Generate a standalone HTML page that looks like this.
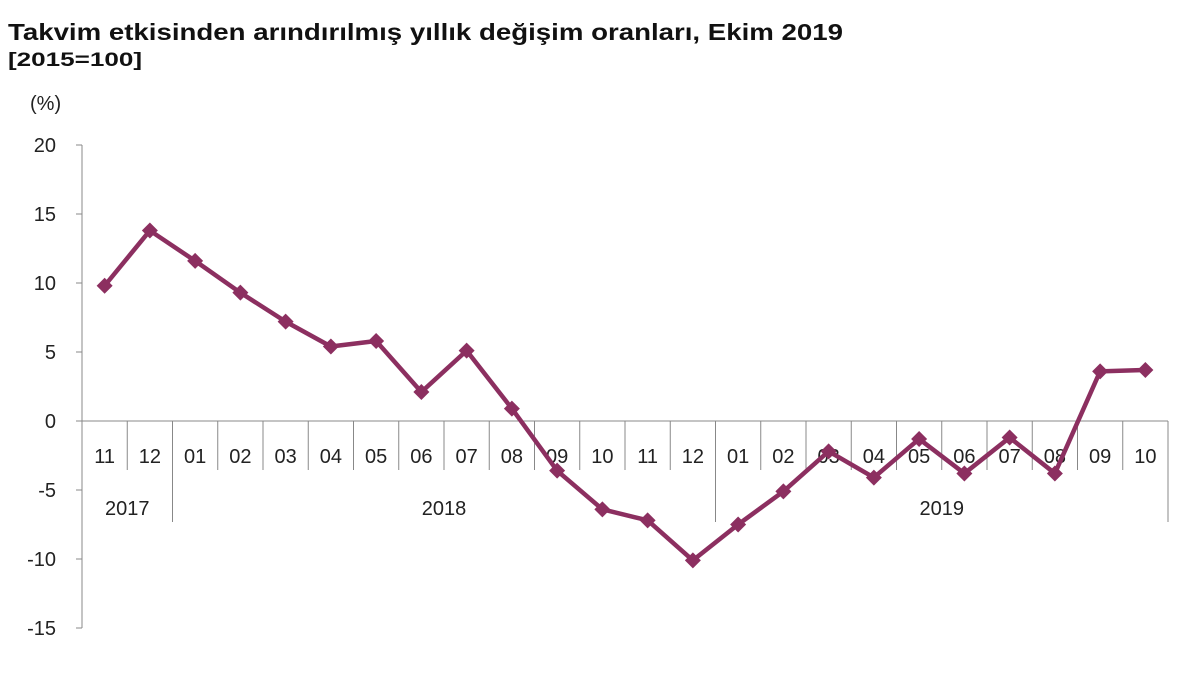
<!DOCTYPE html>
<html><head><meta charset="utf-8"><style>
body{margin:0;background:#fff;}
svg{display:block;font-family:"Liberation Sans",Arial,sans-serif;}
</style></head><body>
<svg id="chart" width="1200" height="675" viewBox="0 0 1200 675">
<text x="8" y="40" font-size="23" font-weight="bold" fill="#111" textLength="835" lengthAdjust="spacingAndGlyphs">Takvim etkisinden arındırılmış yıllık değişim oranları, Ekim 2019</text>
<text x="8" y="66" font-size="19" font-weight="bold" fill="#111" textLength="134" lengthAdjust="spacingAndGlyphs">[2015=100]</text>
<text x="30" y="110" font-size="20" fill="#222">(%)</text>
<g id="axes"></g>
<g id="series"></g>
</svg>
<script>
const months=["11","12","01","02","03","04","05","06","07","08","09","10","11","12","01","02","03","04","05","06","07","08","09","10"];
const years=["2017","2018","2019"];
const yearSpans=[2,12,10];
const values=[9.8,13.8,11.6,9.3,7.2,5.4,5.8,2.1,5.1,0.9,-3.6,-6.4,-7.2,-10.1,-7.5,-5.1,-2.2,-4.1,-1.3,-3.8,-1.2,-3.8,3.6,3.7];
const yTicks=[20,15,10,5,0,-5,-10,-15];
const NS="http://www.w3.org/2000/svg";
const x0=82,x1=1168,yStep=69/5;
const bw=(x1-x0)/months.length;
const y=v=>421-(v)*yStep;
const xc=i=>x0+bw*(i+0.5);
function mk(tag,attrs,parent,text){const e=document.createElementNS(NS,tag);for(const k in attrs)e.setAttribute(k,attrs[k]);if(text!==undefined)e.textContent=text;parent.appendChild(e);return e;}
const ax=document.getElementById('axes'),se=document.getElementById('series');
let e=mk('line',{x1:x0,y1:y(20),x2:x0,y2:y(-15),stroke:'#888','stroke-width':1},ax);


yTicks.forEach(t=>{
 let l=mk('line',{x1:x0-6,y1:y(t),x2:x0,y2:y(t),stroke:'#888'},ax);
 
 
 let tx=mk('text',{x:56,y:y(t)+7,'font-size':20,'text-anchor':'end',fill:'#222'},ax,String(t));
 
 
});
e=mk('line',{x1:x0,y1:y(0),x2:x1,y2:y(0),stroke:'#888'},ax);


months.forEach((m,i)=>{
 let l=mk('line',{x1:x0+bw*i,y1:y(0),x2:x0+bw*i,y2:470,stroke:'#888'},ax);
 
 
 let t=mk('text',{x:xc(i),y:463,'font-size':20,'text-anchor':'middle',fill:'#222'},ax,m);
 
 
});
let start=0;
years.forEach((yr,k)=>{
 let l=mk('line',{x1:x0+bw*start,y1:y(0),x2:x0+bw*start,y2:522,stroke:'#888'},ax);
 
 
 let t=mk('text',{x:x0+bw*(start+yearSpans[k]/2),y:515,'font-size':20,'text-anchor':'middle',fill:'#222'},ax,yr);
 
 
 start+=yearSpans[k];
});
e=mk('line',{x1:x1,y1:y(0),x2:x1,y2:522,stroke:'#888'},ax);


const pts=values.map((v,i)=>xc(i)+','+y(v)).join(' ');
e=mk('polyline',{points:pts,fill:'none',stroke:'#8c2f60','stroke-width':4.5,'stroke-linejoin':'round'},se);


values.forEach((v,i)=>{
 const cx=xc(i),cy=y(v),r=8;
 let p=mk('polygon',{points:`${cx},${cy-r} ${cx+r},${cy} ${cx},${cy+r} ${cx-r},${cy}`,fill:'#8c2f60'},se);
 
 
});
</script>
</body></html>
